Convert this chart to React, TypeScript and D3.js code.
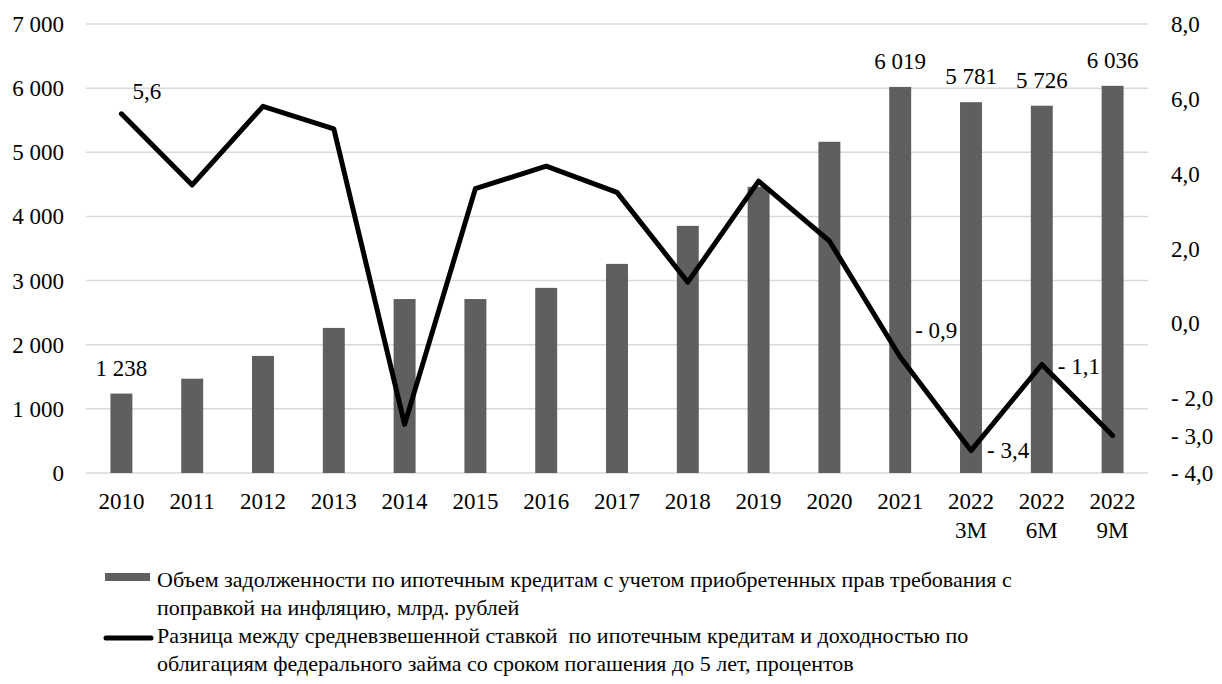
import React from "react";
import * as d3 from "d3";

const categories = ["2010", "2011", "2012", "2013", "2014", "2015", "2016", "2017", "2018", "2019", "2020", "2021", "2022 3M", "2022 6M", "2022 9M"];
const debtValues = [1238, 1470, 1825, 2262, 2712, 2712, 2886, 3260, 3853, 4462, 5164, 6019, 5781, 5726, 6036];
const spreadValues = [5.6, 3.7, 5.8, 5.2, -2.7, 3.6, 4.2, 3.5, 1.1, 3.8, 2.2, -0.9, -3.4, -1.1, -3.0];
const leftTicks = [0, 1000, 2000, 3000, 4000, 5000, 6000, 7000];
const rightTicks = [8, 6, 4, 2, 0, -2, -3, -4];
const barLabelIdx = [0, 11, 12, 13, 14];
const lineLabelIdx = [0, 11, 12, 13];
const legendBar = ["Объем задолженности по ипотечным кредитам с учетом приобретенных прав требования с", "поправкой на инфляцию, млрд. рублей"];
const legendLine = ["Разница между средневзвешенной ставкой  по ипотечным кредитам и доходностью по", "облигациям федерального займа со сроком погашения до 5 лет, процентов"];

const W = 1222, H = 684;
const FONT = '"Liberation Serif", "Times New Roman", Times, serif';
const FS = 23;

const ru = d3.formatLocale({ decimal: ",", thousands: "\u00a0", grouping: [3], currency: ["", ""] });
const fmtInt = ru.format(",d");
const fmt1 = ru.format(",.1f");
const fmtSigned = (v: number) => (v < 0 ? "- " + fmt1(-v) : fmt1(v));

const textStyle: React.CSSProperties = { fontFamily: FONT, fontSize: FS, whiteSpace: "pre" };
const legendStyle: React.CSSProperties = { fontFamily: FONT, fontSize: 22, whiteSpace: "pre" };

export default function App() {
  const left = 86, right = 1148, top = 24, bottom = 473;
  const x = d3.scaleBand<string>().domain(categories).range([left, right]).paddingInner(0.69).paddingOuter(0.345);
  const yL = d3.scaleLinear().domain([0, 7000]).range([bottom, top]);
  const yR = d3.scaleLinear().domain([-4, 8]).range([bottom, top]);
  const cx = (i: number) => (x(categories[i]) as number) + x.bandwidth() / 2;
  const line = d3.line<number>().x((_, i) => cx(i)).y((d) => yR(d));

  const lineLabelOffsets: Record<number, [number, number]> = {
    0: [11, -15],
    11: [15, -19],
    12: [16, 7],
    13: [16, 10],
  };

  return (
    <svg width={W} height={H} style={{ position: "absolute", left: 0, top: 0, background: "#fff" }}>
      <rect x={0} y={0} width={W} height={H} fill="#fff" />
      {leftTicks.map((t) => (
        <line key={"g" + t} x1={left} x2={right} y1={yL(t)} y2={yL(t)} stroke="#d9d9d9" strokeWidth={1.5} />
      ))}
      {leftTicks.map((t) => (
        <text key={"l" + t} style={textStyle} x={64} y={yL(t)} dy="0.35em" textAnchor="end" fill="#000">{fmtInt(t)}</text>
      ))}
      {rightTicks.map((t) => (
        <text key={"r" + t} style={textStyle} x={1171} y={yR(t)} dy="0.35em" textAnchor="start" fill="#000">{fmtSigned(t)}</text>
      ))}
      {debtValues.map((v, i) => (
        <rect key={"b" + i} x={x(categories[i])} y={yL(v)} width={x.bandwidth()} height={yL(0) - yL(v)} fill="#5f5f5f" />
      ))}
      {barLabelIdx.map((i) => (
        <text key={"bl" + i} style={textStyle} x={cx(i)} y={yL(debtValues[i]) - 18} textAnchor="middle" fill="#000">{fmtInt(debtValues[i])}</text>
      ))}
      <path d={line(spreadValues) || ""} fill="none" stroke="#000" strokeWidth={5} strokeLinejoin="round" strokeLinecap="round" />
      {lineLabelIdx.map((i) => (
        <text key={"ll" + i} style={textStyle} x={cx(i) + lineLabelOffsets[i][0]} y={yR(spreadValues[i]) + lineLabelOffsets[i][1]} fill="#000">{fmtSigned(spreadValues[i])}</text>
      ))}
      {categories.map((c, i) => (
        <text key={"x" + i} style={textStyle} x={cx(i)} y={509} textAnchor="middle" fill="#000">
          {c.split(" ").map((p, j) => (
            <tspan key={j} x={cx(i)} dy={j === 0 ? 0 : 29}>{p}</tspan>
          ))}
        </text>
      ))}
      <rect x={105} y={573} width={45} height={8} fill="#5f5f5f" />
      {legendBar.map((s, j) => (
        <text key={"lb" + j} style={legendStyle} x={157} y={587 + j * 28} fill="#000">{s}</text>
      ))}
      <line x1={106} x2={151} y1={638} y2={638} stroke="#000" strokeWidth={5} strokeLinecap="round" />
      {legendLine.map((s, j) => (
        <text key={"ln" + j} style={legendStyle} x={157} y={643 + j * 28} fill="#000">{s}</text>
      ))}
    </svg>
  );
}
